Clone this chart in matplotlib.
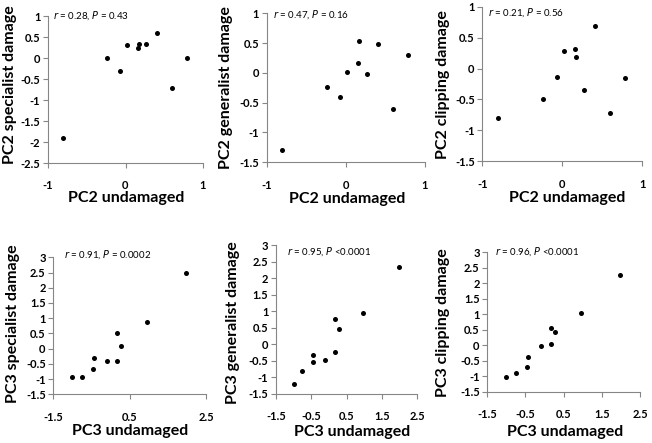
import matplotlib
matplotlib.use("Agg")
import matplotlib.pyplot as plt
import numpy as np

# ---- data ----
pc2_undamaged = [-0.81, -0.24, -0.07, 0.02, 0.155, 0.17, 0.27, 0.405, 0.595, 0.79]
pc2_specialist = [-1.90, 0.00, -0.30, 0.30, 0.23, 0.33, 0.33, 0.59, -0.72, -0.01]
pc2_generalist = [-1.30, -0.23, -0.41, 0.02, 0.17, 0.53, -0.02, 0.49, -0.60, 0.30]
pc2_clipping = [-0.80, -0.50, -0.13, 0.28, 0.31, 0.19, -0.34, 0.69, -0.72, -0.16]

pc3_undamaged = [-1.00, -0.76, -0.46, -0.44, -0.10, 0.16, 0.18, 0.28, 0.96, 1.98]
pc3_specialist = [-0.92, -0.92, -0.68, -0.31, -0.42, 0.50, -0.39, 0.09, 0.88, 2.47]
pc3_generalist = [-1.19, -0.81, -0.53, -0.32, -0.47, 0.76, -0.23, 0.46, 0.94, 2.33]
pc3_clipping = [-1.04, -0.89, -0.69, -0.37, -0.01, 0.56, 0.03, 0.42, 1.03, 2.28]

ylabels = ["PC2 specialist damage", "PC2 generalist damage", "PC2 clipping damage",
           "PC3 specialist damage", "PC3 generalist damage", "PC3 clipping damage"]
xlabels = ["PC2 undamaged"] * 3 + ["PC3 undamaged"] * 3
stats_r = ["0.28", "0.47", "0.21", "0.91", "0.95", "0.96"]
stats_p = ["= 0.43", "= 0.16", "= 0.56", "= 0.0002", "<0.0001", "<0.0001"]

# ---- layout (pixels) ----
W, H = 652, 443
plt.rcParams['font.family'] = ['Lato', 'DejaVu Sans']
fig = plt.figure(figsize=(W / 100, H / 100), dpi=100)

# left, right, top, bottom in pixel coords
boxes = [
    (48, 203, 16, 163),
    (266.7, 425, 13.3, 162.3),
    (482.3, 642.3, 6.7, 161.3),
    (53.3, 206, 257.3, 394.3),
    (276, 417.3, 245.3, 394),
    (487.3, 640, 252.3, 391.7),
]
xs = [pc2_undamaged] * 3 + [pc3_undamaged] * 3
ys = [pc2_specialist, pc2_generalist, pc2_clipping, pc3_specialist, pc3_generalist, pc3_clipping]
xlims = [(-1, 1)] * 3 + [(-1.5, 2.5)] * 3
ylims = [(-2.5, 1), (-1.5, 1), (-1.5, 1), (-1.5, 3), (-1.5, 3), (-1.5, 3)]
xsteps = [1, 1, 1, 2, 1, 1]
ann_pos = [(52.7, 16), (273, 15), (488, 13), (64, 255), (287, 252), (495, 252)]
xlab_pos = [(126, 198), (346.7, 199), (566.7, 198), (130, 430.7), (351.7, 431.7), (565, 431.7)]
ylab_pos = [(10, 85), (226, 87.5), (443, 85), (13, 324), (233, 323), (443, 323)]

spine_col = "#868686"
for i in range(6):
    l, r, t, b = boxes[i]
    ax = fig.add_axes([l / W, 1 - b / H, (r - l) / W, (b - t) / H])
    ax.scatter(xs[i], ys[i], s=13, color="black", zorder=3, linewidths=0)
    ax.set_xlim(*xlims[i])
    ax.set_ylim(*ylims[i])
    ax.set_xticks(np.arange(xlims[i][0], xlims[i][1] + 1e-9, xsteps[i]))
    ax.set_yticks(np.arange(ylims[i][0], ylims[i][1] + 1e-9, 0.5))
    ax.xaxis.set_major_formatter(matplotlib.ticker.FuncFormatter(lambda v, p: f"{v:g}"))
    ax.yaxis.set_major_formatter(matplotlib.ticker.FuncFormatter(lambda v, p: f"{v:g}"))
    for s in ["top", "right"]:
        ax.spines[s].set_visible(False)
    for s in ["left", "bottom"]:
        ax.spines[s].set_color(spine_col)
        ax.spines[s].set_linewidth(0.8)
    ax.tick_params(direction="out", length=3.5, width=0.8, color=spine_col,
                   labelsize=8, pad=2)
    ax.tick_params(axis="x", pad=9)
    for lab in ax.get_xticklabels() + ax.get_yticklabels():
        lab.set_fontweight("bold")
    ax.patch.set_alpha(0)

    # annotation
    ax_, ay_ = ann_pos[i]
    fig.text(ax_ / W, 1 - ay_ / H, f"$\\it{{r}}$ = {stats_r[i]}, $\\it{{P}}$ {stats_p[i]}",
             fontsize=7, ha="left", va="center")
    xl, yl = xlab_pos[i]
    fig.text(xl / W, 1 - yl / H, xlabels[i], fontsize=11.5, fontweight="bold",
             ha="center", va="center")
    yx, yy = ylab_pos[i]
    fig.text(yx / W, 1 - yy / H, ylabels[i], fontsize=11.5, fontweight="bold",
             ha="center", va="center", rotation=90)

fig.savefig("out.png", dpi=100)
